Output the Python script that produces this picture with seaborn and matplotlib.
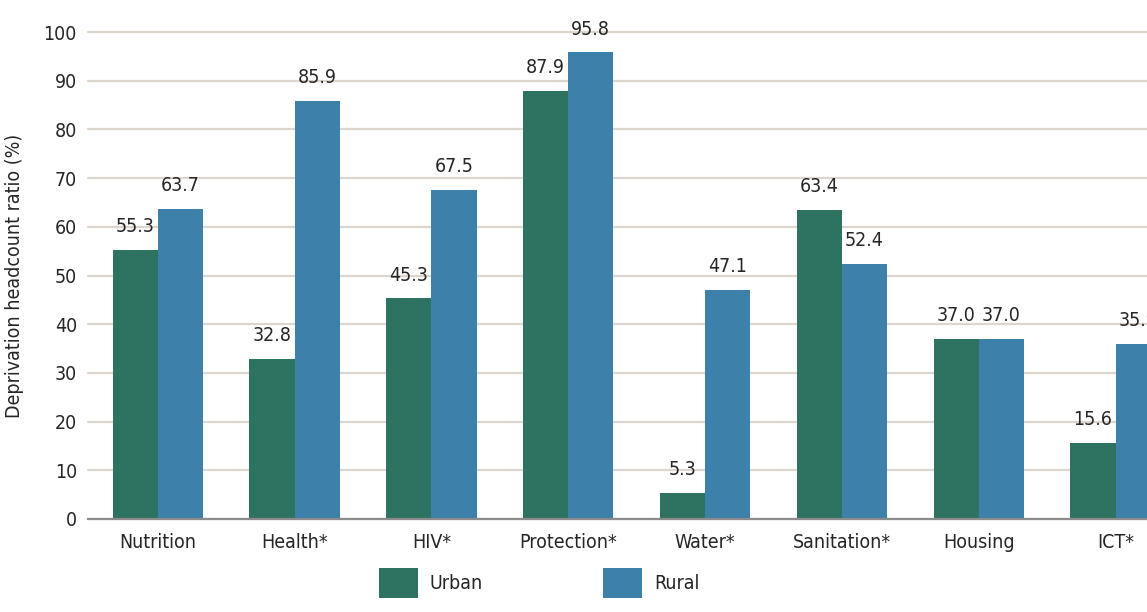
import pandas as pd
import matplotlib.pyplot as plt
import seaborn as sns
from matplotlib import font_manager

# dados
dimensions = ['Nutrition', 'Health*', 'HIV*', 'Protection*', 'Water*', 'Sanitation*', 'Housing', 'ICT*']
urban = [55.3, 32.8, 45.3, 87.9, 5.3, 63.4, 37.0, 15.6]
rural = [63.7, 85.9, 67.5, 95.8, 47.1, 52.4, 37.0, 35.9]

df = pd.DataFrame({
    'Dimension': dimensions * 2,
    'Area': ['Urban'] * len(dimensions) + ['Rural'] * len(dimensions),
    'Value': urban + rural,
})

sns.set_style('white')
names = {f.name for f in font_manager.fontManager.ttflist}
if 'Liberation Sans Narrow' in names:
    plt.rcParams['font.family'] = ['Liberation Sans Narrow', 'DejaVu Sans']
else:
    plt.rcParams['font.family'] = ['DejaVu Sans']
    plt.rcParams['font.stretch'] = 'condensed'

fig = plt.figure(figsize=(11.47, 6.12), dpi=100)
ax = fig.add_axes([88 / 1147, 1 - 519 / 612, 1 - 88 / 1147, (519 - 32) / 612])

sns.barplot(data=df, x='Dimension', y='Value', hue='Area',
            palette={'Urban': '#2e7262', 'Rural': '#3d80aa'},
            width=0.66, gap=0, saturation=1, linewidth=0, ax=ax, zorder=3)

for cont in ax.containers:
    ax.bar_label(cont, fmt='%.1f', padding=10, fontsize=14, clip_on=False)

ax.set_ylim(0, 100)
ax.set_xlim(-0.51, 7.23)
ax.set_yticks(range(0, 101, 10))
ax.yaxis.grid(True, color='#dcd6ce', linewidth=1.6, zorder=0)
for gl in ax.get_ygridlines():
    gl.set_clip_on(False)
ax.set_axisbelow(True)
for s in ['top', 'right', 'left']:
    ax.spines[s].set_visible(False)
ax.spines['bottom'].set_color('#8c8c8c')
ax.spines['bottom'].set_linewidth(1.6)
ax.spines['bottom'].set_zorder(4)
ax.tick_params(axis='both', length=0, labelsize=14)
ax.tick_params(axis='y', pad=8)
ax.tick_params(axis='x', pad=10)
ax.set_xlabel('')
ax.set_ylabel('Deprivation headcount ratio (%)', fontsize=14, labelpad=14)

handles, labels = ax.get_legend_handles_labels()
ax.get_legend().remove()
fig.legend(handles, labels, loc='lower center', bbox_to_anchor=(0.47, -0.005), ncol=2,
           frameon=False, fontsize=14, handlelength=2.0, handleheight=2.0,
           columnspacing=6.2, handletextpad=0.6)

fig.savefig('out.png', dpi=100)
